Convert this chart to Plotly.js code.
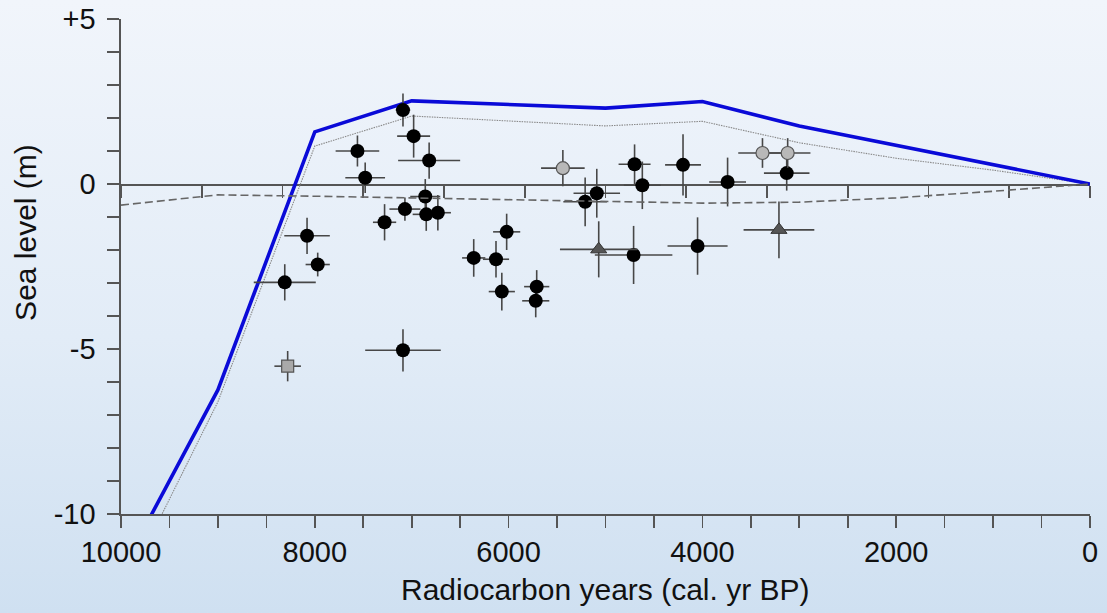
<!DOCTYPE html>
<html>
<head>
<meta charset="utf-8">
<script src="https://cdn.plot.ly/plotly-3.0.1.min.js"></script>
<style>
  html, body { margin: 0; padding: 0; width: 1107px; height: 613px; overflow: hidden; }
  body { background: linear-gradient(to bottom, #f1f5fb 0%, #e2ecf7 55%, #cfe0f1 100%); }
  #chart { width: 1107px; height: 613px; }
</style>
</head>
<body>
<div id="chart"></div>
<script>
// ---- Data ----
// Model curves: age (cal. yr BP) vs sea level (m)
const blueAge   = [10000, 9000, 8000, 7000, 5000, 4000, 3000, 0];
const blueLevel = [-11.75, -6.24, 1.58, 2.52, 2.3, 2.5, 1.76, 0];

const dottedAge   = [10000, 9000, 8000, 7000, 5000, 4000, 3000, 2000, 1000, 0];
const dottedLevel = [-12.5, -6.6, 1.15, 2.06, 1.76, 1.9, 1.25, 0.78, 0.42, 0];

const dashedAge   = [10000, 9000, 8000, 7000, 6000, 5000, 4000, 3000, 2000, 1000, 0];
const dashedLevel = [-0.64, -0.33, -0.37, -0.42, -0.48, -0.54, -0.58, -0.55, -0.42, -0.22, 0];

// Black circles (sea-level index points)
const blackAge      = [7090, 6980, 6820, 7560, 7480, 6860, 7070, 6850, 6730, 7280, 8080, 7970, 8310, 7090, 5090, 5210, 6020, 6360, 6130, 6070, 5710, 5720, 4710, 4700, 4620, 4200, 3740, 3130, 4050];
const blackLevel    = [2.24, 1.45, 0.71, 1.0, 0.19, -0.38, -0.76, -0.92, -0.87, -1.16, -1.57, -2.44, -2.98, -5.04, -0.28, -0.54, -1.45, -2.24, -2.28, -3.26, -3.11, -3.54, -2.15, 0.6, -0.04, 0.58, 0.06, 0.33, -1.88];
const blackAgeErr   = [75, 170, 320, 225, 205, 155, 160, 140, 135, 120, 235, 125, 320, 390, 240, 225, 140, 120, 135, 135, 130, 140, 400, 165, 190, 185, 190, 235, 310];
const blackLevelErr = [0.5, 0.65, 0.55, 0.47, 0.46, 0.53, 0.35, 0.5, 0.54, 0.55, 0.55, 0.36, 0.55, 0.64, 0.74, 0.74, 0.55, 0.57, 0.55, 0.57, 0.5, 0.5, 0.88, 0.6, 0.72, 0.93, 0.74, 0.53, 0.87];

// Grey circles
const greyAge      = [5440, 3380, 3120];
const greyLevel    = [0.48, 0.94, 0.94];
const greyAgeErr   = [225, 250, 235];
const greyLevelErr = [0.55, 0.45, 0.45];

// Triangles
const triAge      = [5070, 3210];
const triLevel    = [-1.98, -1.39];
const triAgeErr   = [400, 365];
const triLevelErr = [0.85, 0.86];

// Square
const sqAge      = [8280];
const sqLevel    = [-5.52];
const sqAgeErr   = [137];
const sqLevelErr = [0.46];

// Axis ticks
const xTickVals  = [10000, 9500, 9000, 8500, 8000, 7500, 7000, 6500, 6000, 5500, 5000, 4500, 4000, 3500, 3000, 2500, 2000, 1500, 1000, 500, 0];
const xTickText  = ['10000', '', '', '', '8000', '', '', '', '6000', '', '', '', '4000', '', '', '', '2000', '', '', '', '0'];
const yTickVals  = [5, 4, 3, 2, 1, 0, -1, -2, -3, -4, -5, -6, -7, -8, -9, -10];
const yTickText  = ['+5', '', '', '', '', '0', '', '', '', '', '-5', '', '', '', '', '-10'];
const zeroLineTickStep = 10000 / 12;

const xTitle = 'Radiocarbon years (cal. yr BP)';
const yTitle = 'Sea level (m)';

// ---- Traces ----
const FONT = 'Liberation Sans, Arial, Helvetica, sans-serif';
const errStyle = {type: 'data', symmetric: true, color: '#474747', thickness: 1.6, width: 0};

function pts(age, lvl, ageErr, lvlErr, marker) {
  return {
    type: 'scatter', mode: 'markers', x: age, y: lvl,
    error_x: Object.assign({array: ageErr}, errStyle),
    error_y: Object.assign({array: lvlErr}, errStyle),
    marker: marker, hoverinfo: 'x+y', showlegend: false, cliponaxis: true
  };
}

const traces = [
  {type: 'scatter', mode: 'lines', x: dashedAge, y: dashedLevel, xaxis: 'x2',
   line: {color: '#666', width: 1.6, dash: '8px,4px'}, showlegend: false},
  {type: 'scatter', mode: 'lines', x: dottedAge, y: dottedLevel,
   line: {color: '#8a8a8a', width: 1.1, dash: '1.5px,1px'}, showlegend: false},
  {type: 'scatter', mode: 'lines', x: blueAge, y: blueLevel,
   line: {color: '#0a0ad8', width: 3.6}, showlegend: false},
  pts(blackAge, blackLevel, blackAgeErr, blackLevelErr,
      {symbol: 'circle', size: 14, color: '#000', line: {width: 0}}),
  pts(greyAge, greyLevel, greyAgeErr, greyLevelErr,
      {symbol: 'circle', size: 13, color: '#b8b8b8', line: {width: 1.2, color: '#555'}}),
  pts(triAge, triLevel, triAgeErr, triLevelErr,
      {symbol: 'triangle-up', size: 14, color: '#555', line: {width: 1, color: '#333'}}),
  pts(sqAge, sqLevel, sqAgeErr, sqLevelErr,
      {symbol: 'square', size: 12, color: '#a9a9a9', line: {width: 1.2, color: '#555'}})
];

const axisCommon = {
  showgrid: false, zeroline: false, showline: true,
  linecolor: '#555', linewidth: 1.6,
  ticks: 'outside', ticklen: 12, tickwidth: 1.6, tickcolor: '#555',
  tickfont: {family: FONT, size: 29, color: '#111'}, tickmode: 'array'
};

const layout = {
  width: 1107, height: 613,
  margin: {l: 121, r: 17, t: 19, b: 99},
  paper_bgcolor: 'rgba(0,0,0,0)', plot_bgcolor: 'rgba(0,0,0,0)',
  showlegend: false,
  xaxis: Object.assign({}, axisCommon, {
    range: [10000, 0], tickvals: xTickVals, ticktext: xTickText
  }),
  yaxis: Object.assign({}, axisCommon, {
    range: [-10, 5], tickvals: yTickVals, ticktext: yTickText, ticklabelstandoff: 6
  }),
  xaxis2: {
    overlaying: 'x', anchor: 'free', position: 10 / 15, side: 'bottom',
    range: [10000, 0], tickmode: 'linear', tick0: 0, dtick: zeroLineTickStep,
    showticklabels: false, showgrid: false, zeroline: false,
    showline: true, linecolor: '#555', linewidth: 1.6,
    ticks: 'outside', ticklen: 12, tickwidth: 1.6, tickcolor: '#555',
    layer: 'below traces'
  },
  annotations: [
    {text: xTitle, xref: 'paper', yref: 'paper', x: 0.5, y: -0.152,
     xanchor: 'center', yanchor: 'middle', showarrow: false,
     font: {family: FONT, size: 30, color: '#111'}},
    {text: yTitle, xref: 'paper', yref: 'paper', x: -0.098, y: 0.568,
     xanchor: 'center', yanchor: 'middle', showarrow: false, textangle: -90,
     font: {family: FONT, size: 30, color: '#111'}}
  ]
};

Plotly.newPlot('chart', traces, layout, {displayModeBar: false, staticPlot: true});
</script>
</body>
</html>
